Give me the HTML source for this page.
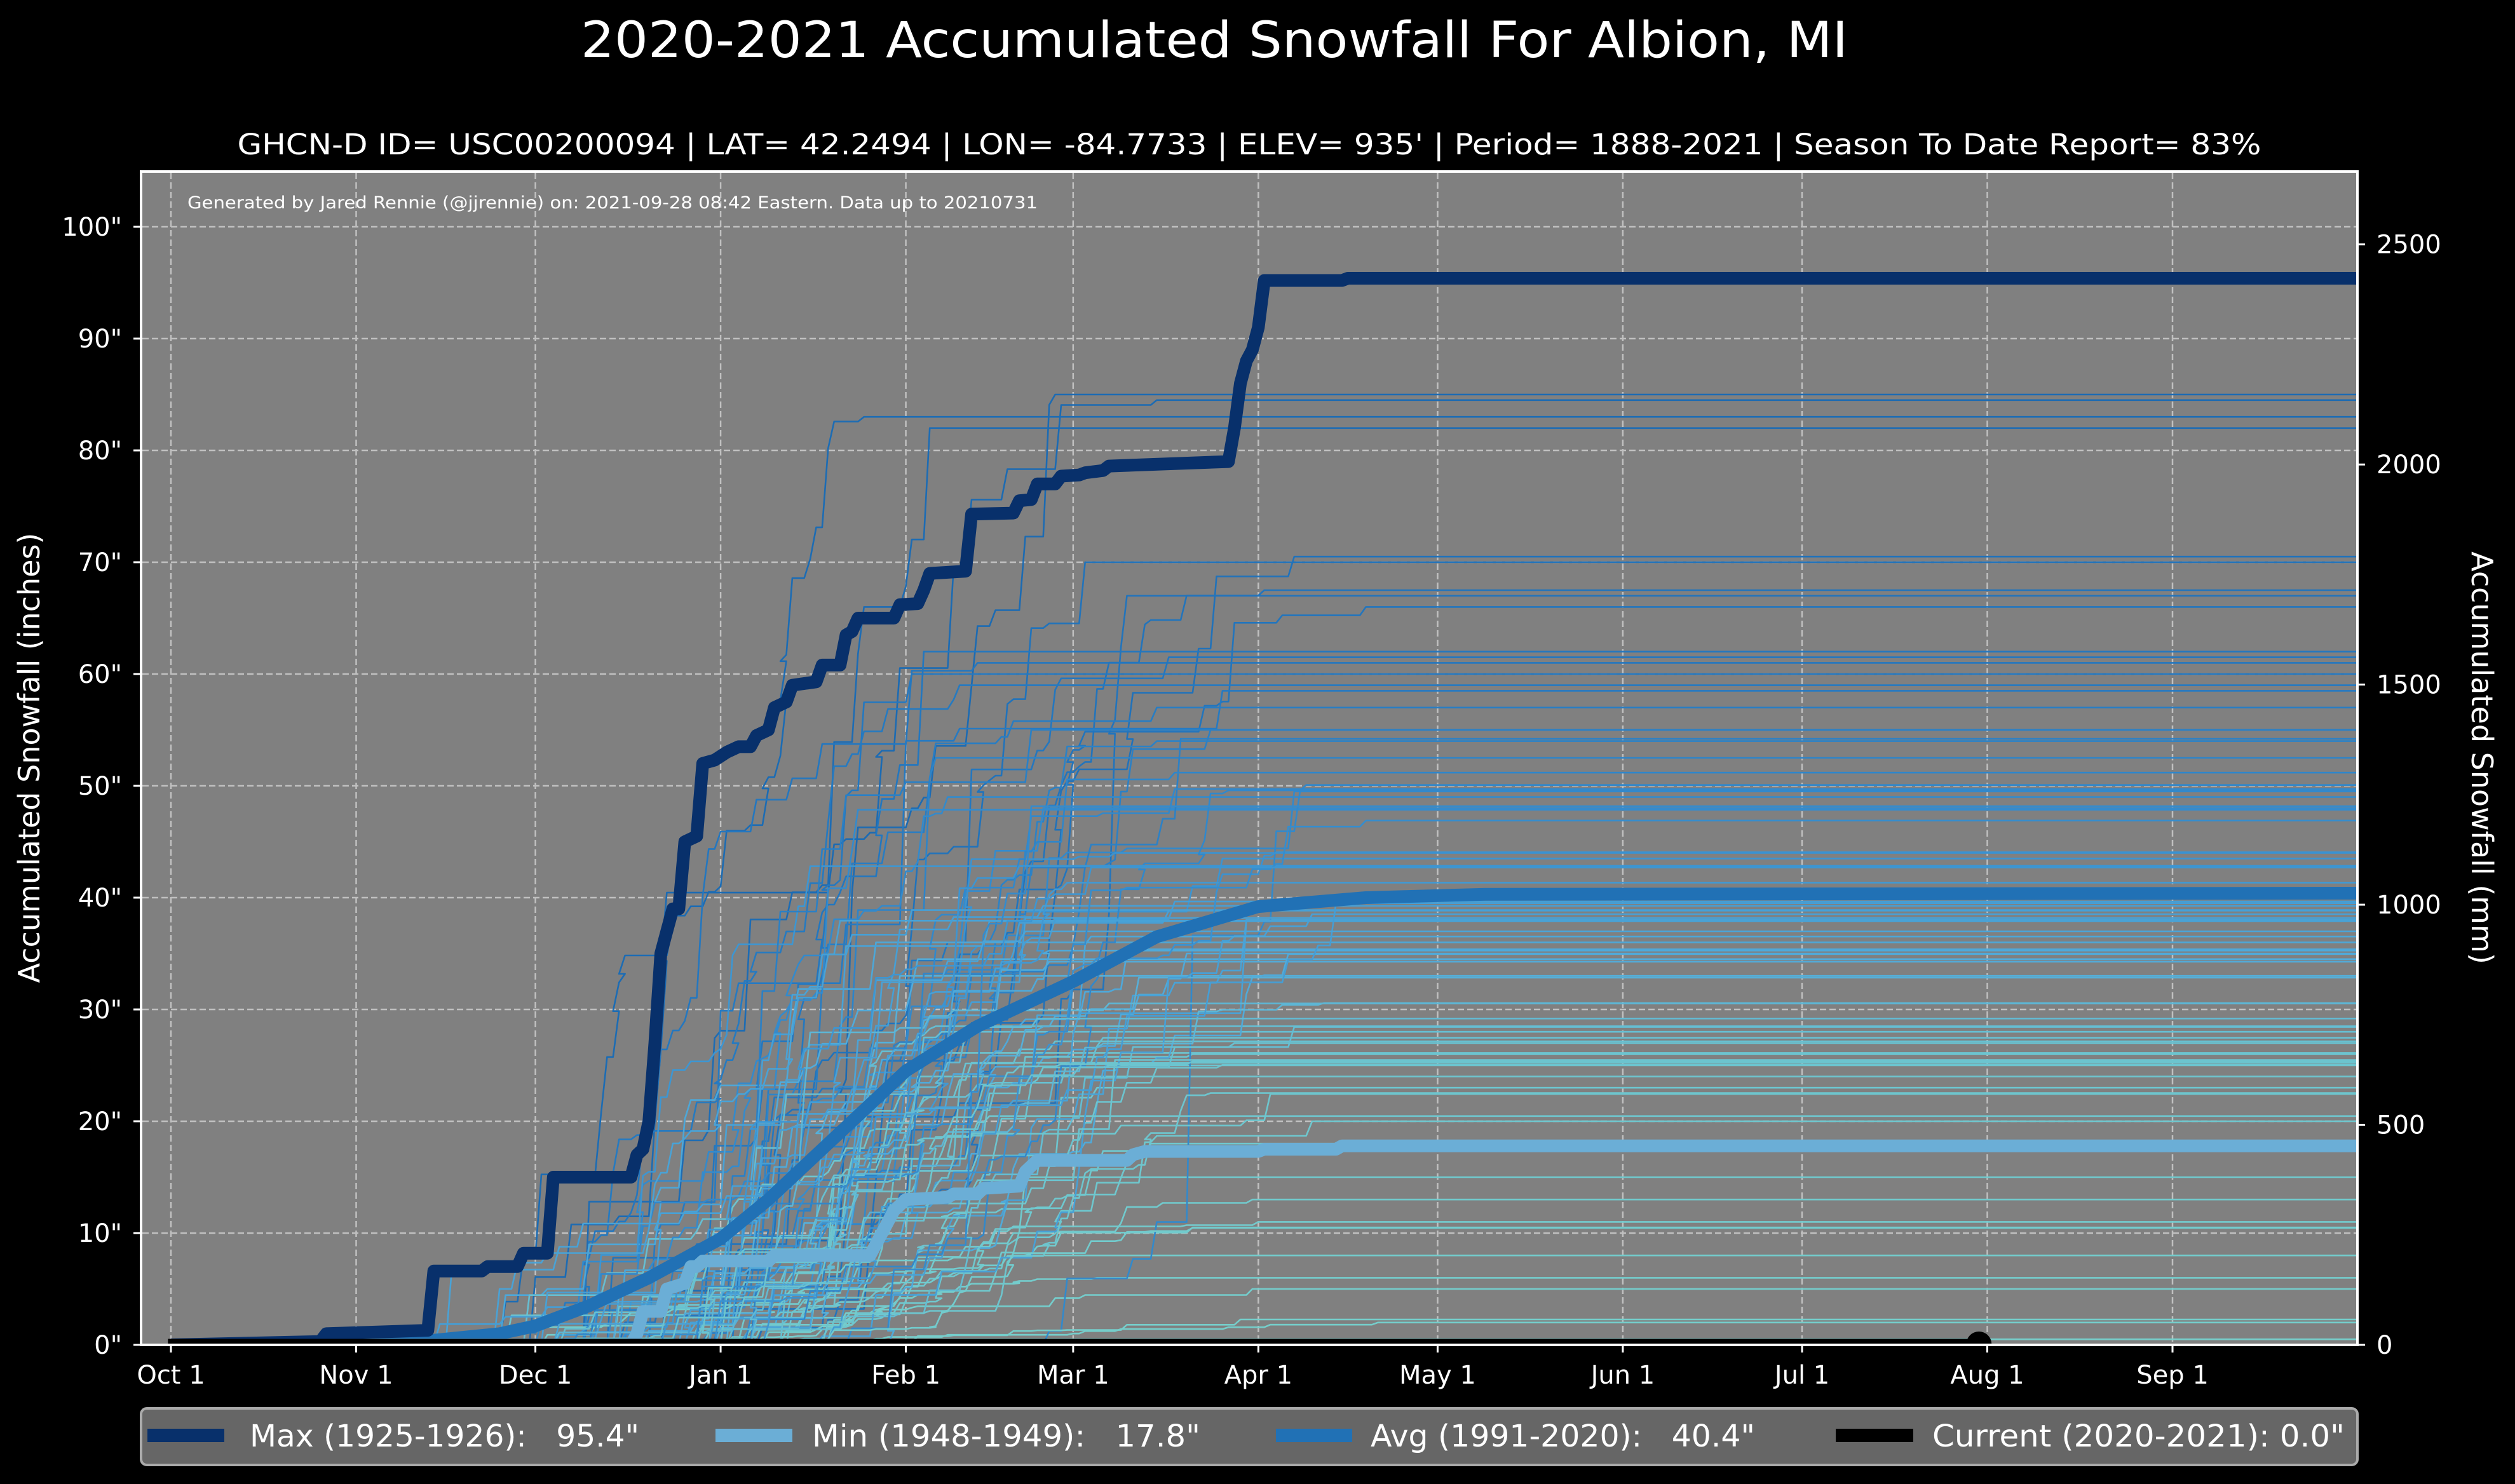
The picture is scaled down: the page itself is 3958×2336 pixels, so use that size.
<!DOCTYPE html>
<html><head><meta charset="utf-8"><style>
html,body{margin:0;padding:0;background:#000;}
svg{display:block;font-family:"DejaVu Sans","Liberation Sans",sans-serif;}
</style></head><body>
<svg id="s" width="3958" height="2336" viewBox="0 0 3958 2336" xmlns="http://www.w3.org/2000/svg">
<defs><clipPath id="ax"><rect x="222" y="270" width="3488" height="1847"/></clipPath></defs>
<rect width="3958" height="2336" fill="#000"/>
<text x="1911" y="90" font-size="78" fill="#fff" text-anchor="middle" textLength="1994" lengthAdjust="spacingAndGlyphs">2020-2021 Accumulated Snowfall For Albion, MI</text>
<text x="1966" y="243" font-size="45" fill="#fff" text-anchor="middle" textLength="3185" lengthAdjust="spacingAndGlyphs">GHCN-D ID= USC00200094 | LAT= 42.2494 | LON= -84.7733 | ELEV= 935' | Period= 1888-2021 | Season To Date Report= 83%</text>
<rect x="222" y="270" width="3488" height="1847" fill="#808080"/>
<g id="grid" stroke="#d0d0d0" stroke-width="2.5" stroke-dasharray="10,5" opacity="0.8"></g>
<text x="295" y="328" font-size="27" fill="#fff" textLength="1338" lengthAdjust="spacingAndGlyphs">Generated by Jared Rennie (@jjrennie) on: 2021-09-28 08:42 Eastern. Data up to 20210731</text>
<g clip-path="url(#ax)">
<g id="spag" fill="none" stroke-width="2.6" stroke-linejoin="round"></g>
<g id="main" fill="none" stroke-linejoin="round" stroke-linecap="butt"></g>
</g>
<rect x="222" y="270" width="3488" height="1847" fill="none" stroke="#fff" stroke-width="4"/>
<g id="ticks" stroke="#fff" stroke-width="3"></g>
<g id="labels" fill="#fff" font-size="40"></g>
<text transform="translate(62,1193) rotate(-90)" font-size="46" fill="#fff" text-anchor="middle">Accumulated Snowfall (inches)</text>
<text transform="translate(3890,1193) rotate(90)" font-size="46" fill="#fff" text-anchor="middle">Accumulated Snowfall (mm)</text>
<rect x="222" y="2217" width="3488" height="89" rx="9" fill="#666" stroke="#aaa" stroke-width="4"/>
<rect x="232" y="2249" width="121" height="21" fill="#08306b"/>
<text x="393" y="2277" font-size="48" fill="#fff" xml:space="preserve" textLength="613" lengthAdjust="spacingAndGlyphs">Max (1925-1926):   95.4"</text>
<rect x="1126" y="2249" width="121" height="21" fill="#6baed6"/>
<text x="1278" y="2277" font-size="48" fill="#fff" xml:space="preserve" textLength="611" lengthAdjust="spacingAndGlyphs">Min (1948-1949):   17.8"</text>
<rect x="2008" y="2249" width="120" height="21" fill="#2171b5"/>
<text x="2157" y="2277" font-size="48" fill="#fff" xml:space="preserve" textLength="605" lengthAdjust="spacingAndGlyphs">Avg (1991-2020):   40.4"</text>
<rect x="2889" y="2249" width="122" height="21" fill="#000"/>
<text x="3041" y="2277" font-size="48" fill="#fff" xml:space="preserve" textLength="649" lengthAdjust="spacingAndGlyphs">Current (2020-2021): 0.0"</text>
</svg>
<script>
(function(){
var NS="http://www.w3.org/2000/svg";
function X(d){return 269+9.403*d;}
function Y(v){return 2117-17.6*v;}
function el(t,a,p){var e=document.createElementNS(NS,t);for(var k in a)e.setAttribute(k,a[k]);p.appendChild(e);return e;}
var grid=document.getElementById('grid'),ticks=document.getElementById('ticks'),labels=document.getElementById('labels');
var months=[[0,'Oct 1'],[31,'Nov 1'],[61,'Dec 1'],[92,'Jan 1'],[123,'Feb 1'],[151,'Mar 1'],[182,'Apr 1'],[212,'May 1'],[243,'Jun 1'],[273,'Jul 1'],[304,'Aug 1'],[335,'Sep 1']];
months.forEach(function(m){var x=X(m[0]);
 el('line',{x1:x,y1:272,x2:x,y2:2115},grid);
 el('line',{x1:x,y1:2117,x2:x,y2:2129},ticks);
 var t=el('text',{x:x,y:2178,'text-anchor':'middle'},labels);t.textContent=m[1];});
for(var v=0;v<=100;v+=10){var y=Y(v);
 if(v>0)el('line',{x1:224,y1:y,x2:3708,y2:y},grid);
 el('line',{x1:210,y1:y,x2:222,y2:y},ticks);
 var t=el('text',{x:192,y:y+14,'text-anchor':'end'},labels);t.textContent=v+'"';}
for(var mm=0;mm<=2500;mm+=500){var y=Y(mm/25.4);
 el('line',{x1:3710,y1:y,x2:3722,y2:y},ticks);
 var t=el('text',{x:3740,y:y+14},labels);t.textContent=mm;}
var seed=777;function R(){seed|=0;seed=seed+0x6D2B79F5|0;var t=Math.imul(seed^seed>>>15,1|seed);t=t+Math.imul(t^t>>>7,61|t)^t;return((t^t>>>14)>>>0)/4294967296;}
function gauss(){return Math.sqrt(-2*Math.log(R()+1e-9))*Math.cos(2*Math.PI*R());}
function lerp(a,b,t){return a+(b-a)*t;}
function hex(c){return[parseInt(c.substr(1,2),16),parseInt(c.substr(3,2),16),parseInt(c.substr(5,2),16)];}
var stops=[[0,'#76cfcb'],[26,'#6cc4cf'],[34,'#52acda'],[45,'#3890d0'],[60,'#2478c0'],[90,'#1a68b0']];
function col(v){for(var i=0;i<stops.length-1;i++){if(v<=stops[i+1][0]){var t=(v-stops[i][0])/(stops[i+1][0]-stops[i][0]);var a=hex(stops[i][1]),b=hex(stops[i+1][1]);return 'rgb('+Math.round(lerp(a[0],b[0],t))+','+Math.round(lerp(a[1],b[1],t))+','+Math.round(lerp(a[2],b[2],t))+')';}}return stops[stops.length-1][1];}
var spag=document.getElementById('spag');
var finals=[85,84.5,83,82,70.5,70,67.5,67,66,62,61.5,61,60,59,58.5,57,55,54,52.5,49.5,49,48,44,43.5,36,35,34.5,33,28.5,28,26,25,24,23,20,18,15,13,11,10.5,8,6,5,2,0.5];
for(var i=0;i<50;i++){var f=36+gauss()*14;if(f<2)f=2+R()*10;if(f>70)f=30+R()*30;finals.push(f);}
finals.forEach(function(F){
 var s=20+R()*70, e=130+R()*80; if(R()<0.2)e=200+R()*40;
 var n=8+Math.floor(R()*22);var ev=[];var tot=0;
 for(var k=0;k<n;k++){var u=(R()+R()+R())/3;var d=Math.floor(s+(e-s)*u);var a=Math.pow(R(),2)+0.05;ev.push([d,a]);tot+=a;}
 ev.sort(function(a,b){return a[0]-b[0];});
 var cum=0,pts=[[X(0),Y(0)]];
 ev.forEach(function(q){var prev=cum;cum+=q[1]/tot*F;pts.push([X(q[0]),Y(prev)]);pts.push([X(q[0]+1),Y(cum)]);});
 pts.push([X(366),Y(F)]);
 var d='M'+pts.map(function(p){return p[0].toFixed(1)+','+p[1].toFixed(1);}).join('L');
 el('path',{d:d,stroke:col(F)},spag);
});
var main=document.getElementById('main');
function P(a,c,w){var d='M'+a.map(function(p){return X(p[0]).toFixed(1)+','+Y(p[1]).toFixed(1);}).join('L');el('path',{d:d,stroke:c,'stroke-width':w},main);}
var avg=[[0,0],[40,0.2],[55,1],[61,1.7],[70,3.5],[80,6],[92,9.5],[100,13],[110,18],[123,24.5],[135,28.5],[151,32.5],[165,36.5],[182,39.2],[200,40],[220,40.3],[366,40.4]];
var mn=[[0,0],[77,0],[78,1],[79,3],[82,3],[83,5],[86,5.5],[87,7],[88,7],[89,7.5],[100,7.5],[101,8],[117,8],[118,9],[120,11],[121,12],[122,12.5],[123,13],[130,13.2],[131,13.5],[135,13.5],[136,14],[142,14.2],[143,15.5],[145,16.5],[160,16.5],[161,17],[163,17.3],[182,17.3],[183,17.5],[195,17.5],[196,17.8],[366,17.8]];
var mx=[[0,0],[25,0.3],[26,1],[43,1.3],[44,6.6],[52,6.6],[53,7],[58,7],[59,8.2],[63,8.2],[64,15],[77,15],[78,17],[79,17.5],[80,20],[81,27],[82,35],[83,37],[84,39],[85,39],[86,45],[88,45.5],[89,52],[91,52.3],[93,53],[95,53.5],[97,53.5],[98,54.5],[100,55],[101,57],[103,57.5],[104,59],[108,59.3],[109,60.8],[112,60.8],[113,63.5],[114,63.8],[115,65],[121,65],[122,66.2],[125,66.3],[126,67.5],[127,69],[133,69.2],[134,74.3],[141,74.4],[142,75.5],[144,75.6],[145,77],[148,77],[149,77.7],[152,77.8],[153,78],[156,78.2],[157,78.6],[177,79],[178,82],[179,86],[180,88],[181,89],[182,91],[183,95.2],[196,95.2],[197,95.4],[366,95.4]];
P(avg,'#2171b5',20);
P(mn,'#6baed6',20);
P(mx,'#08306b',20);
el('line',{x1:X(-0.5),y1:2112,x2:X(302.6),y2:2112,stroke:'#000','stroke-width':9},main);
el('circle',{cx:X(302.6),cy:2116,r:20,fill:'#000'},main);
})();
</script>
</body></html>
